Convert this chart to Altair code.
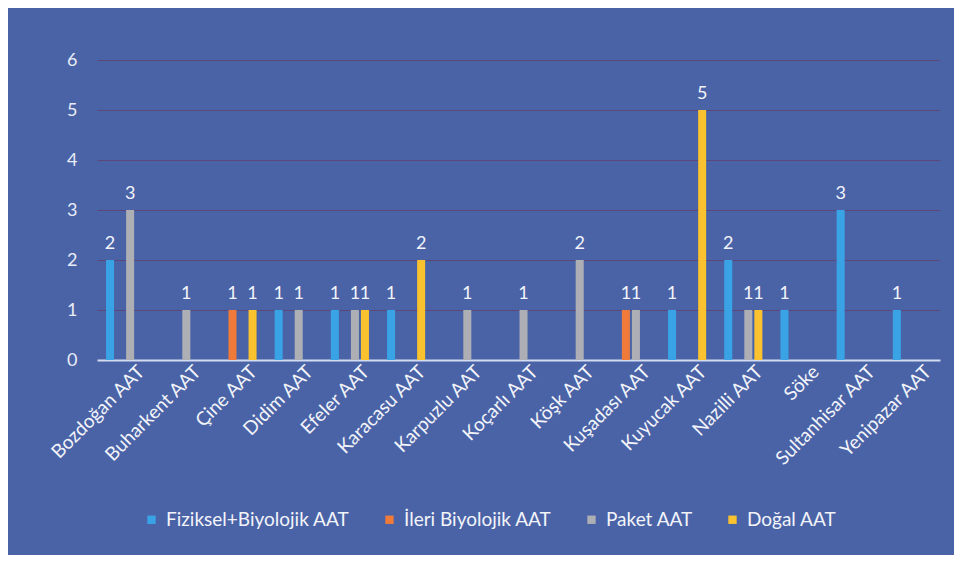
import altair as alt
import pandas as pd

categories = ["Bozdoğan AAT", "Buharkent AAT", "Çine AAT", "Didim AAT", "Efeler AAT",
              "Karacasu AAT", "Karpuzlu AAT", "Koçarlı AAT", "Köşk AAT", "Kuşadası AAT",
              "Kuyucak AAT", "Nazilli AAT", "Söke", "Sultanhisar AAT", "Yenipazar AAT"]
series = ["Fiziksel+Biyolojik AAT", "İleri Biyolojik AAT", "Paket AAT", "Doğal AAT"]
colors = ["#3AA3E6", "#F07A3A", "#ADAFB5", "#F9C22E"]

fiziksel = [2, 0, 0, 1, 1, 1, 0, 0, 0, 0, 1, 2, 1, 3, 1]
ileri    = [0, 0, 1, 0, 0, 0, 0, 0, 0, 1, 0, 0, 0, 0, 0]
paket    = [3, 1, 0, 1, 1, 0, 1, 1, 2, 1, 0, 1, 0, 0, 0]
dogal    = [0, 0, 1, 0, 1, 2, 0, 0, 0, 0, 5, 1, 0, 0, 0]

rows = []
for s, vals in zip(series, [fiziksel, ileri, paket, dogal]):
    for c, v in zip(categories, vals):
        rows.append({"cat": c, "series": s, "value": v})
df = pd.DataFrame(rows)

FONT = "Lato"
x = alt.X("cat:N", sort=categories, scale=alt.Scale(paddingInner=0, paddingOuter=0),
          axis=alt.Axis(title=None, labelAngle=-45, labelAlign="right", labelBaseline="top",
                        labelColor="#F2F4FA", labelFontSize=19, labelFont=FONT,
                        ticks=False, domainColor="#D4DCF2", domainWidth=2, labelPadding=2,
                        labelOffset=10, labelLimit=300, grid=False))
xo = alt.XOffset("series:N", sort=series,
                 scale=alt.Scale(domain=series, paddingInner=0.2, paddingOuter=0.9))
y = alt.Y("value:Q", scale=alt.Scale(domain=[0, 6]),
          axis=alt.Axis(title=None, values=[0, 1, 2, 3, 4, 5, 6], labelColor="#E8ECF8",
                        labelFontSize=18, labelFont=FONT, ticks=False, domain=False,
                        gridColor="#5B4878", gridWidth=1.2, labelPadding=20))
color = alt.Color("series:N", sort=series,
                  scale=alt.Scale(domain=series, range=colors),
                  legend=alt.Legend(title=None, orient="none", direction="horizontal",
                                    legendX=45, legendY=450, symbolType="square",
                                    symbolSize=70, symbolStrokeWidth=0, labelColor="#F2F4FA",
                                    labelFontSize=19, labelFont=FONT, columnPadding=30,
                                    labelLimit=400, symbolOffset=0, labelOffset=5))

base = alt.Chart(df)
bars = base.mark_bar().encode(x=x, xOffset=xo, y=y, color=color)
text = base.transform_filter("datum.value > 0").mark_text(
    dy=-16, fontSize=18, font=FONT, color="#F2F4FA").encode(
    x=x, xOffset=xo, y=y, text="value:Q")

chart = (bars + text).properties(
    width=843, height=300,
    background="#4A63A6",
    padding={"left": 89, "top": 52, "right": 14, "bottom": 195},
    autosize=alt.AutoSizeParams(type="none"),
).configure_view(stroke=None).configure_axis(domainColor="#D4DCF2")

chart.save("out.html", embed_options={"renderer": "svg", "actions": False})
